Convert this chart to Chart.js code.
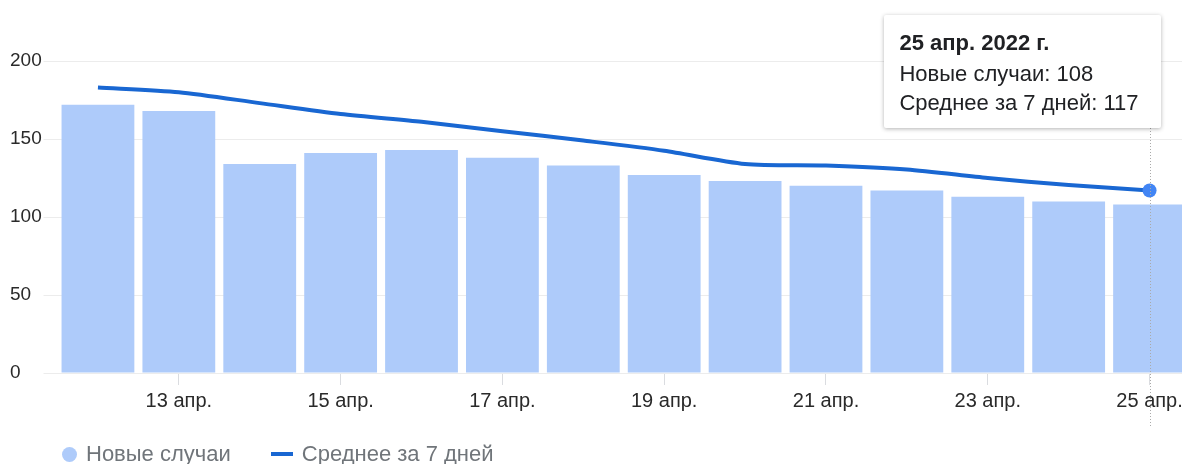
<!DOCTYPE html>
<html>
<head>
<meta charset="utf-8">
<script src="https://cdn.jsdelivr.net/npm/chart.js@4.4.0/dist/chart.umd.min.js"></script>
<style>
  html, body { margin:0; padding:0; background:#fff; overflow:hidden; }
  #wrap { position:relative; width:1182px; height:464px; overflow:hidden; }
  canvas { position:absolute; left:0; top:0; }
  #tip {
    position:absolute; background:#fff; border-radius:2px;
    box-shadow:0 1px 4px rgba(0,0,0,0.3);
    font-family:"Liberation Sans", Arial, sans-serif; font-size:22px; line-height:29px;
    color:#202124; padding:13px 22px 11px 15px; white-space:nowrap; display:none;
  }
  #tip .t { font-weight:bold; margin-bottom:2px; }
  #legend {
    position:absolute; left:62px; top:441px; display:flex; align-items:center;
    font-family:"Liberation Sans", Arial, sans-serif; font-size:22px; color:#70757a;
  }
  #legend .item { display:flex; align-items:center; margin-right:40px; }
  #legend .dot { width:15px; height:15px; border-radius:50%; margin-right:9px; }
  #legend .ln { width:22px; height:4px; margin-right:9px; }
</style>
</head>
<body>
<div id="wrap">
  <canvas id="chart" width="1192" height="464" style="width:1192px;height:464px"></canvas>
  <div id="tip"></div>
  <div id="legend"></div>
</div>
<script>
// Data
const days = [12, 13, 14, 15, 16, 17, 18, 19, 20, 21, 22, 23, 24, 25];
const monthLabel = 'апр.';
const year = 2022;
const newCases = [172, 168, 134, 141, 143, 138, 133, 127, 123, 120, 117, 113, 110, 108];
const avg7 = [183, 180, 173, 166, 161, 155, 149, 142.5, 134, 133, 130.5, 125, 120.5, 117];
const yTicks = [0, 50, 100, 150, 200];
const seriesNames = ['Новые случаи', 'Среднее за 7 дней'];

const barColor = '#aecbfa';
const lineColor = '#1967d2';
const font = '"Liberation Sans", Arial, sans-serif';

const labels = days.map(d => `${d} ${monthLabel}`);
const activeIndex = days.length - 1;

// Tooltip (html so it can have a shadow)
const tipEl = document.getElementById('tip');
function externalTip(context){
  const tt = context.tooltip;
  if(tt.opacity === 0 || !tt.dataPoints || !tt.dataPoints.length){ tipEl.style.display='none'; return; }
  const i = tt.dataPoints[0].dataIndex;
  tipEl.innerHTML = `<div class="t">${days[i]} ${monthLabel} ${year} г.</div>` +
    `<div>${seriesNames[0]}: ${newCases[i]}</div>` +
    `<div>${seriesNames[1]}: ${Math.round(avg7[i])}</div>`;
  tipEl.style.display='block';
  tipEl.style.left = (tt.caretX + 9 - tipEl.offsetWidth) + 'px';
  tipEl.style.top = '15px';
}

// dotted guide at hovered day
const guideLine = {
  id: 'guideLine',
  afterDatasetsDraw(chart){
    const x = Math.round(chart.scales.x.getPixelForValue(activeIndex)) + 0.5;
    const ctx = chart.ctx;
    ctx.save();
    ctx.strokeStyle = '#aaa';
    ctx.lineWidth = 1;
    ctx.setLineDash([1, 2]);
    ctx.beginPath();
    ctx.moveTo(x, chart.chartArea.top - 20);
    ctx.lineTo(x, chart.chartArea.bottom + 55);
    ctx.stroke();
    ctx.restore();
  }
};

const chart = new Chart(document.getElementById('chart'), {
  type: 'bar',
  data: {
    labels,
    datasets: [
      {
        type: 'bar', label: seriesNames[0], data: newCases, order: 1,
        backgroundColor: barColor, hoverBackgroundColor: barColor,
        barPercentage: 0.9, categoryPercentage: 1, borderWidth: 0
      },
      {
        type: 'line', label: seriesNames[1], data: avg7, order: 0,
        borderColor: lineColor, borderWidth: 4, tension: 0.25,
        pointRadius: 0, pointHoverRadius: 7, pointHoverBorderWidth: 0,
        pointBackgroundColor: '#4285f4', pointHoverBackgroundColor: '#4285f4',
        borderCapStyle: 'butt'
      }
    ]
  },
  options: {
    responsive: false,
    animation: false,
    events: [],
    layout: { padding: { left: 10, top: 61, right: 0, bottom: 51 } },
    interaction: { mode: 'index', intersect: false },
    plugins: {
      legend: { display: false },
      tooltip: { enabled: false, external: externalTip }
    },
    scales: {
      x: {
        border: { display: false },
        grid: {
          offset: false, drawOnChartArea: false, drawTicks: true, tickLength: 12,
          color: c => (c.index % 2 === 1 ? '#dadce0' : 'rgba(0,0,0,0)')
        },
        ticks: {
          autoSkip: false, maxRotation: 0, padding: 4, color: '#2a2a2a',
          font: { family: font, size: 20 },
          callback: (v, i) => (i % 2 === 1 ? labels[i] : '')
        },
        afterFit: s => { s.height = 40; }
      },
      y: {
        min: 0, max: 200,
        border: { display: false },
        grid: { color: '#ececec', tickLength: 14, drawTicks: true },
        afterBuildTicks: s => { s.ticks = yTicks.map(v => ({ value: v })); },
        ticks: {
          crossAlign: 'far', padding: 0, color: '#2a2a2a',
          font: { family: font, size: 19 }
        },
        afterFit: s => { s.width = 47.5; }
      }
    }
  },
  plugins: [guideLine]
});

const act = [{ datasetIndex: 0, index: activeIndex }, { datasetIndex: 1, index: activeIndex }];
chart.setActiveElements(act);
chart.tooltip.setActiveElements(act, { x: 0, y: 0 });
chart.update();

// Legend
const legend = document.getElementById('legend');
legend.innerHTML =
  `<div class="item"><span class="dot" style="background:${barColor}"></span>${seriesNames[0]}</div>` +
  `<div class="item"><span class="ln" style="background:${lineColor}"></span>${seriesNames[1]}</div>`;
</script>
</body>
</html>
